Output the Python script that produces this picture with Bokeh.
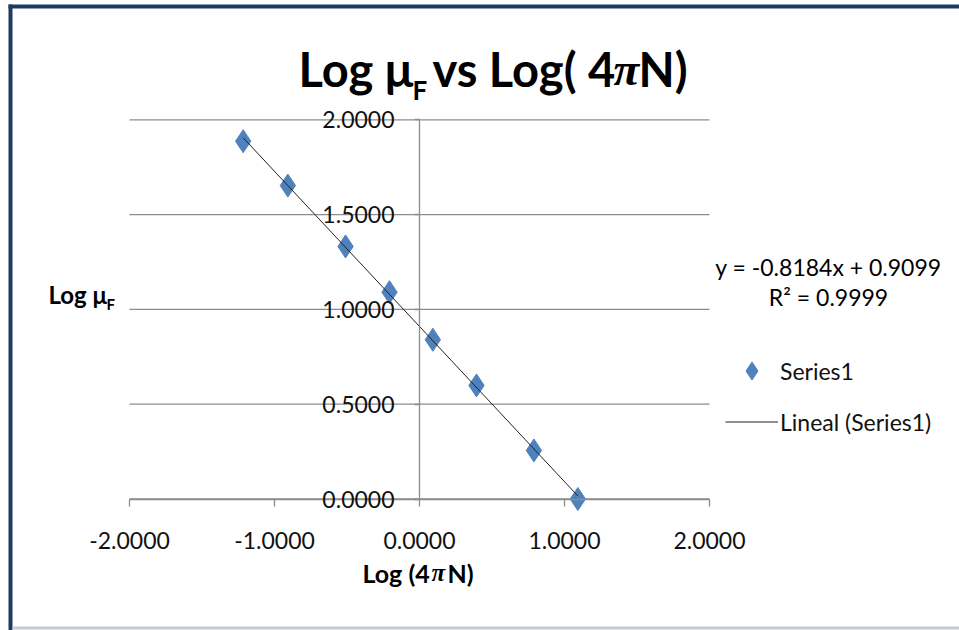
import numpy as np
from bokeh.plotting import figure
from bokeh.models import (Range1d, LinearAxis, FixedTicker, NumeralTickFormatter,
                          Label, BoxAnnotation, Legend, LegendItem)
from bokeh.embed import file_html
from bokeh.resources import INLINE

# Measured points: log(4*pi*N) against log(mu_F)
log_4piN = [-1.216, -0.908, -0.510, -0.207, 0.092, 0.393, 0.789, 1.092]
log_muF = [1.887, 1.653, 1.332, 1.091, 0.840, 0.599, 0.256, 0.000]

x_ticks = [-2, -1, 0, 1, 2]
y_ticks = [0, 0.5, 1, 1.5, 2]

# Linear trend line
slope = -0.8184
intercept = 0.9099
r_squared = 0.9999

series_name = "Series1"
trend_name = "Lineal (Series1)"

FONT = "Lato"
SERIF = "Liberation Serif"
BLUE = "#4F81BD"
GRID = "#8C8C8C"
NAVY = "#1F3A60"

# Canvas and the pixel box the axes' value span occupies inside it
W, H = 959, 630
PLOT_LEFT, PLOT_RIGHT = 129, 709
PLOT_TOP, PLOT_BOTTOM = 119.3, 498.5

x_lo, x_hi = x_ticks[0], x_ticks[-1]
y_lo, y_hi = y_ticks[0], y_ticks[-1]
x_per_px = (x_hi - x_lo) / (PLOT_RIGHT - PLOT_LEFT)
y_per_px = (y_hi - y_lo) / (PLOT_BOTTOM - PLOT_TOP)
x_range = Range1d(x_lo - PLOT_LEFT * x_per_px, x_hi + (W - PLOT_RIGHT) * x_per_px)
y_range = Range1d(y_lo - (H - PLOT_BOTTOM) * y_per_px, y_hi + PLOT_TOP * y_per_px)

p = figure(width=W, height=H, output_backend="svg", toolbar_location=None,
           x_range=x_range, y_range=y_range,
           x_axis_location=None, y_axis_location=None,
           min_border=0)
p.outline_line_color = None
p.background_fill_color = "white"
p.border_fill_color = "white"
p.xgrid.visible = False
p.ygrid.visible = False

# horizontal gridlines over the value span only
p.segment(x0=[x_lo] * len(y_ticks), x1=[x_hi] * len(y_ticks), y0=y_ticks, y1=y_ticks,
          line_color=GRID, line_width=1.3)


def style_axis(ax, ticks):
    ax.ticker = FixedTicker(ticks=ticks)
    ax.formatter = NumeralTickFormatter(format="0.0000")
    ax.axis_line_color = GRID
    ax.axis_line_width = 1.3
    ax.major_tick_line_color = GRID
    ax.major_tick_line_width = 1.3
    ax.major_tick_in = 0
    ax.minor_tick_line_color = None
    ax.major_label_text_font = FONT
    ax.major_label_text_font_size = "23px"
    ax.major_label_text_color = "#111111"


xa = LinearAxis(fixed_location=0, bounds=(x_lo, x_hi))
style_axis(xa, x_ticks)
xa.major_tick_out = 7
xa.major_label_standoff = 26
p.add_layout(xa, "below")

# vertical axis crossing at x = 0
ya = LinearAxis(fixed_location=0, bounds=(y_lo, y_hi))
style_axis(ya, y_ticks)
ya.major_tick_out = 5
ya.major_label_standoff = 20
p.add_layout(ya, "left")

pts = p.scatter(log_4piN, log_muF, marker="diamond", size=23,
                fill_color=BLUE, line_color=BLUE)
fit_x = np.array([min(log_4piN), max(log_4piN)])
fit = p.line(fit_x, slope * fit_x + intercept, line_color="#222222", line_width=1)

legend = Legend(items=[LegendItem(label=series_name, renderers=[pts]),
                       LegendItem(label=trend_name, renderers=[fit])],
                location=(725, 186), glyph_width=53, glyph_height=45,
                label_text_font=FONT, label_text_font_size="23px",
                label_text_color="#111111",
                spacing=6, padding=0, margin=0, label_standoff=2,
                background_fill_alpha=0, border_line_color=None)
p.add_layout(legend)


def add_text(text, x, y, size, bold=True, italic=False, font=FONT, align="left"):
    style = "bold" if bold else "normal"
    if italic:
        style = "bold italic" if bold else "italic"
    p.add_layout(Label(x=x, y=y, x_units="canvas", y_units="canvas", text=text,
                       text_font=font, text_font_size=f"{size}px",
                       text_font_style=style, text_color="#000000",
                       text_align=align, text_baseline="alphabetic"))


# title: Log mu_F vs Log( 4 pi N)
add_text("Log \u03bc", 298, 68, 47)
add_text("F", 412, 89, 26)
add_text("vs Log( 4", 432, 68, 47)
add_text("\u03c0", 613, 68, 47, italic=True, font=SERIF)
add_text("N)", 638, 68, 47)

# y axis title
add_text("Log \u03bc", 48, 294, 24)
add_text("F", 106, 303, 15)

# x axis title
add_text("Log (4", 362, 572, 25)
add_text("\u03c0", 431, 572, 25, italic=True, font=SERIF)
add_text("N)", 447, 572, 25)

# trend line equation
eq = f"y = {slope:.4f}x + {intercept:.4f}"
add_text(eq, 828, 266, 23, bold=False, align="center")
add_text(f"R\u00b2 = {r_squared:.4f}", 828, 296, 23, bold=False, align="center")

# frame of the chart area
for left, right, top, bottom, color in [(8, W, 4, 8, NAVY), (8, 12, 4, H, NAVY),
                                         (12, W, 626, 629, "#C5CCD4")]:
    p.add_layout(BoxAnnotation(left=left, right=right, top=top, bottom=bottom,
                               left_units="canvas", right_units="canvas",
                               top_units="canvas", bottom_units="canvas",
                               fill_color=color, fill_alpha=1, line_color=None))

open("out.html", "w").write(file_html(p, INLINE))
